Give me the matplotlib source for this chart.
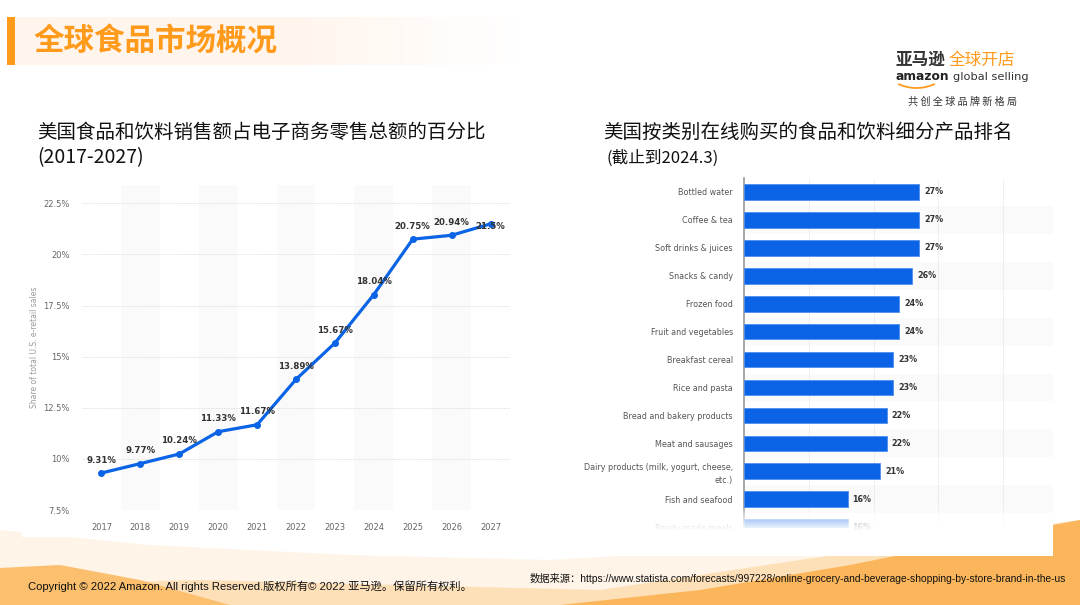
import numpy as np
import matplotlib
matplotlib.use("Agg")
from matplotlib import pyplot as plt
from matplotlib.patches import Rectangle

plt.rcParams['font.family'] = ['Noto Sans CJK SC', 'DejaVu Sans']

# ---- data ----
years = [2017, 2018, 2019, 2020, 2021, 2022, 2023, 2024, 2025, 2026, 2027]
share = [9.31, 9.77, 10.24, 11.33, 11.67, 13.89, 15.67, 18.04, 20.75, 20.94, 21.5]
share_labels = ["9.31%", "9.77%", "10.24%", "11.33%", "11.67%", "13.89%", "15.67%",
                "18.04%", "20.75%", "20.94%", "21.5%"]
y_ticks = [7.5, 10, 12.5, 15, 17.5, 20, 22.5]
y_tick_labels = ["7.5%", "10%", "12.5%", "15%", "17.5%", "20%", "22.5%"]

categories = ["Bottled water", "Coffee & tea", "Soft drinks & juices", "Snacks & candy",
              "Frozen food", "Fruit and vegetables", "Breakfast cereal", "Rice and pasta",
              "Bread and bakery products", "Meat and sausages",
              "Dairy products (milk, yogurt, cheese,\netc.)", "Fish and seafood",
              "Ready-made meals"]
cat_values = [27, 27, 27, 26, 24, 24, 23, 23, 22, 22, 21, 16, 16]

BLUE = "#0b63e6"
ORANGE = "#ff9a1a"
W, H = 1080, 605
FOOT = ["Liberation Sans", "Noto Sans CJK SC"]

fig = plt.figure(figsize=(W / 100, H / 100), dpi=100)

# background layer in pixel coordinates
bg = fig.add_axes([0, 0, 1, 1], zorder=-10)
bg.set_xlim(0, W)
bg.set_ylim(H, 0)
bg.axis("off")

# bottom decorative waves
xs = np.linspace(0, W, 300)
c1 = np.interp(xs, [0, 150, 350, 550, 800, 1080], [530, 545, 555, 560, 545, 525])
bg.fill_between(xs, c1, H, color="#fef4e8", lw=0)
c2 = np.interp(xs, [0, 200, 400, 600, 800, 1080], [585, 580, 585, 590, 560, 520])
bg.fill_between(xs, c2, H, color="#fde0b8", lw=0)
c3 = np.interp(xs, [0, 60, 140, 230, 1080], [568, 565, 580, 605, 605])
bg.fill_between(xs, c3, H, color="#fbbf6e", lw=0)
c4 = np.interp(xs, [0, 560, 700, 850, 1000, 1080], [605, 605, 590, 565, 535, 520])
bg.fill_between(xs, c4, H, color="#fbb65c", lw=0)

# title bar with fading peach band
grad = np.linspace(0, 1, 256)
band = np.ones((1, 256, 4))
band[..., 1] = 0.962
band[..., 2] = 0.93
band[..., 3] = np.clip(2.2 - 2.2 * grad, 0, 1)
bg.imshow(band, extent=(15, 520, 65, 17), aspect="auto", zorder=1)
bg.add_patch(Rectangle((7, 17), 8, 48, color=ORANGE, lw=0, zorder=2))
bg.text(33, 42, "全球食品市场概况", fontsize=22, fontweight="bold", color=ORANGE,
        va="center", ha="left", zorder=3)

# logo
bg.text(896, 60, "亚马逊", fontsize=12, color="#333333", va="center", ha="left", fontweight="bold")
bg.text(949, 60, "全球开店", fontsize=12, color=ORANGE, va="center", ha="left")
bg.text(896, 77, "amazon", fontsize=8.8, color="#222222", va="center", ha="left",
        fontweight="bold", family="DejaVu Sans")
bg.text(953, 77, "global selling", fontsize=8.2, color="#333333", va="center", ha="left",
        family="DejaVu Sans")
arc_x = np.linspace(899, 934, 30)
bg.plot(arc_x, 88 - 0.012 * (arc_x - 916.5) ** 2, color=ORANGE, lw=1.3)
bg.text(963, 102, "共 创 全 球 品 牌 新 格 局", fontsize=7.3, color="#333333",
        va="center", ha="center")

# subtitles
bg.text(37, 132, "美国食品和饮料销售额占电子商务零售总额的百分比", fontsize=14,
        color="#111111", va="center", ha="left")
bg.text(37, 158, "(2017-2027)", fontsize=14, color="#111111", va="center", ha="left")
bg.text(603, 132, "美国按类别在线购买的食品和饮料细分产品排名", fontsize=14,
        color="#111111", va="center", ha="left")
bg.text(607, 158, "(截止到2024.3)", fontsize=12, color="#111111", va="center", ha="left")

# white panels
bg.add_patch(Rectangle((22, 180), 493, 357, color="white", lw=0, zorder=4))
bg.add_patch(Rectangle((580, 175), 473, 381, color="white", lw=0, zorder=4))

# footer
bg.text(28, 586, "Copyright © 2022 Amazon. All rights Reserved.版权所有© 2022 亚马逊。保留所有权利。",
        fontsize=8.1, color="#111111", va="center", ha="left", family=FOOT, zorder=5)
bg.text(530, 579, "数据来源：https://www.statista.com/forecasts/997228/online-grocery-and-beverage-shopping-by-store-brand-in-the-us",
        fontsize=7.4, color="#111111", va="center", ha="left", family=FOOT, zorder=5)

# ---- left line chart ----
ax1 = fig.add_axes([82 / W, 1 - 510 / H, 428 / W, 325 / H])
ax1.set_facecolor("none")
for yr in years[1::2]:
    ax1.axvspan(yr - 0.5, yr + 0.5, color="#fafafa", lw=0, zorder=0)
ax1.plot(years, share, color=BLUE, lw=2.3, marker="o", markersize=4, zorder=3)
for i, (x, y, lab) in enumerate(zip(years, share, share_labels)):
    dy = -3 if i == len(years) - 1 else 13
    ax1.annotate(lab, (x, y), xytext=(0, dy), textcoords="offset pixels",
                 ha="center", va="center", fontsize=6.2, fontweight="bold",
                 color="#333333", family="DejaVu Sans", zorder=4)
ax1.set_xlim(2016.5, 2027.5)
ax1.set_ylim(7.5, 23.4)
ax1.set_xticks(years)
ax1.set_xticklabels([str(y) for y in years])
ax1.set_yticks(y_ticks)
ax1.set_yticklabels(y_tick_labels)
ax1.grid(axis="y", color="#d8d8d8", lw=0.6, ls=(0, (1, 1)))
ax1.set_axisbelow(True)
for s in ax1.spines.values():
    s.set_visible(False)
ax1.tick_params(axis="both", length=0, labelsize=6, labelcolor="#666666")
ax1.tick_params(axis="x", pad=9)
ax1.tick_params(axis="y", pad=9)
for t in ax1.get_xticklabels() + ax1.get_yticklabels():
    t.set_family("DejaVu Sans")
ax1.set_ylabel("Share of total U.S. e-retail sales", fontsize=5.5, color="#999999",
               family="DejaVu Sans", labelpad=3)

# ---- right bar chart ----
ax2 = fig.add_axes([744 / W, 1 - 528 / H, 309 / W, 350 / H])
ax2.set_facecolor("none")
ypos = np.arange(len(categories))
for i in ypos[1::2]:
    ax2.axhspan(i - 0.5, i + 0.5, color="#fafafa", lw=0, zorder=0)
ax2.barh(ypos, cat_values, height=0.56, color=BLUE, edgecolor="#4f8ff0", lw=0.6, zorder=3)
for i, v in enumerate(cat_values):
    ax2.annotate(f"{v}%", (v, i), xytext=(5, 0), textcoords="offset pixels",
                 ha="left", va="center", fontsize=5.8, fontweight="bold",
                 color="#333333", family="DejaVu Sans", zorder=4)
ax2.set_xlim(0, 47.7)
ax2.set_ylim(12.03, -0.5)
ax2.set_yticks(ypos)
ax2.set_yticklabels(categories, fontsize=5.8, color="#555555", family="DejaVu Sans",
                    linespacing=1.5)
ax2.set_xticks([10, 20, 30, 40])
ax2.set_xticklabels([])
ax2.grid(axis="x", color="#dcdcdc", lw=0.6, ls=(0, (1, 1)))
ax2.set_axisbelow(True)
for s in ["top", "right", "bottom"]:
    ax2.spines[s].set_visible(False)
ax2.spines["left"].set_color("#999999")
ax2.spines["left"].set_linewidth(1.2)
ax2.tick_params(axis="both", length=0, pad=8)

# fade overlay at bottom of bar chart
top = fig.add_axes([0, 0, 1, 1], zorder=10)
top.set_xlim(0, W)
top.set_ylim(H, 0)
top.axis("off")
fade = np.ones((64, 1, 4))
fade[..., 3] = np.linspace(0, 0.95, 64)[:, None] ** 0.6
top.imshow(fade, extent=(580, 1053, 530, 508), aspect="auto")
top.add_patch(Rectangle((580, 530), 473, 6, color="white", lw=0))
top.set_xlim(0, W)
top.set_ylim(H, 0)

fig.savefig("out.png", dpi=100)
